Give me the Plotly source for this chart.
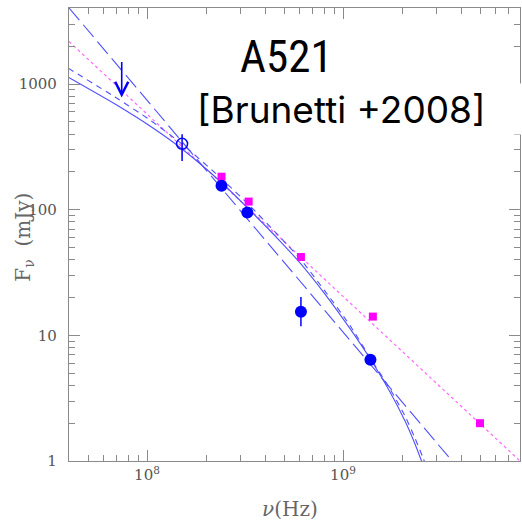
import plotly.graph_objects as go
import math

# ---------------- data ----------------
# detections (blue filled circles)
nu_det = [2.4e8, 3.25e8, 6.1e8, 1.38e9]
F_det = [155, 95, 15.4, 6.4]
F_det_errp = [0, 0, 4.8, 0]
F_det_errm = [0, 0, 3.6, 0]

# 151 MHz point (open circle)
nu_open = [1.51e8]
F_open = [334]
F_open_errp = [65]
F_open_errm = [90]

# companion magenta points
nu_mag = [2.4e8, 3.3e8, 6.1e8, 1.42e9, 5.0e9]
F_mag = [183, 116, 42, 14.1, 2.0]
nu_mag_151 = [1.51e8]
F_mag_151 = [300]
F_mag_151_err = [40]

# 74 MHz upper limit
nu_ul = 7.43e7
F_ul = 1540
F_ul_tip = 780

# model lines
nu_longdash = [4.0e7, 3.6e9]
F_longdash = [4030, 1.0]

nu_dotted = [4.0e7, 8.0e9]
F_dotted = [2180, 1.0]

nu_solid = [3.95e7, 6.87e7, 1.036e8, 1.509e8, 2.413e8, 3.354e8, 4.77e8, 6.11e8,
            8.09e8, 1.086e9, 1.373e9, 1.737e9, 2.072e9, 2.33e9, 2.56e9]
F_solid = [1137, 693, 463, 304, 163, 98.7, 56.3, 36.9,
           21.3, 11.3, 6.54, 3.54, 2.08, 1.366, 0.93]

nu_dash = [3.95e7, 6.87e7, 1.036e8, 1.509e8, 2.413e8, 3.354e8, 4.77e8, 6.11e8,
           8.09e8, 1.086e9, 1.373e9, 1.737e9, 2.072e9, 2.33e9, 2.56e9, 2.715e9]
F_dash = [1340, 788, 517, 333, 175, 107, 60.6, 39.8,
          22.5, 11.97, 6.66, 3.74, 2.28, 1.52, 1.06, 0.83]

x_tickvals = [1e8, 1e9]
x_ticktext = ["10<sup>8</sup>", "10<sup>9</sup>"]
y_tickvals = [1, 10, 100, 1000]
y_ticktext = ["1", "10", "100", "1000"]

title_main = "A521"
title_ref = "[Brunetti +2008]"

# ---------------- figure ----------------
BLUE = "#0000ff"
LBLUE = "#4f4fff"
MAG = "#ff00ff"
AXC = "#8a8a8a"
serif = "DejaVu Serif"

fig = go.Figure()

fig.add_trace(go.Scatter(x=nu_dotted, y=F_dotted, mode="lines",
                         line=dict(color="#ff66ff", width=1.2, dash="dot")))
fig.add_trace(go.Scatter(x=nu_longdash, y=F_longdash, mode="lines",
                         line=dict(color=LBLUE, width=1.1, dash="16px,6px")))
fig.add_trace(go.Scatter(x=nu_dash, y=F_dash, mode="lines", line_shape="spline",
                         line=dict(color=LBLUE, width=1.1, dash="6px,5px", smoothing=0.6)))
fig.add_trace(go.Scatter(x=nu_solid, y=F_solid, mode="lines", line_shape="spline",
                         line=dict(color=LBLUE, width=1.1, smoothing=0.6)))

fig.add_trace(go.Scatter(x=nu_mag_151, y=F_mag_151, mode="markers",
                         marker=dict(size=1, color="#ff88ff"),
                         error_y=dict(type="data", array=F_mag_151_err, color="#ff88ff",
                                      thickness=1, width=0)))
fig.add_trace(go.Scatter(x=nu_mag, y=F_mag, mode="markers",
                         marker=dict(symbol="square", size=8, color=MAG, line=dict(width=0))))
fig.add_trace(go.Scatter(x=nu_open, y=F_open, mode="markers",
                         marker=dict(symbol="circle-open", size=11, color=BLUE,
                                     line=dict(width=1.5, color=BLUE)),
                         error_y=dict(type="data", array=F_open_errp, arrayminus=F_open_errm,
                                      color=BLUE, thickness=1.5, width=0)))
fig.add_trace(go.Scatter(x=nu_det, y=F_det, mode="markers",
                         marker=dict(symbol="circle", size=12, color=BLUE, line=dict(width=0)),
                         error_y=dict(type="data", array=F_det_errp, arrayminus=F_det_errm,
                                      color=BLUE, thickness=1.5, width=0)))

axis_common = dict(
    type="log", showgrid=False, zeroline=False,
    showline=True, linecolor=AXC, linewidth=1.3, mirror="ticks",
    ticks="inside", ticklen=11, tickwidth=1.3, tickcolor=AXC,
    tickfont=dict(family=serif, size=15, color="#555555"),
    minor=dict(ticks="inside", ticklen=6, tickwidth=1.2, tickcolor=AXC, dtick="D1", showgrid=False),
)

fig.update_xaxes(**axis_common, range=[7.602, 9.903],
                 tickvals=x_tickvals, ticktext=x_ticktext)
fig.update_yaxes(**axis_common, range=[0.0, 3.605],
                 tickvals=y_tickvals, ticktext=y_ticktext, ticklabelstandoff=8)

annotations = [
    dict(x=math.log10(nu_ul), y=math.log10(F_ul_tip), ax=math.log10(nu_ul), ay=math.log10(F_ul),
         xref="x", yref="y", axref="x", ayref="y", text="", showarrow=True,
         arrowhead=5, arrowsize=1.6, arrowwidth=1.6, arrowcolor=BLUE),
    dict(x=0.483, y=0.893, xref="paper", yref="paper", text=title_main, showarrow=False,
         xanchor="center", yanchor="middle",
         font=dict(family="Liberation Sans Narrow, Roboto Condensed, Arial Narrow, sans-serif",
                   size=45, color="black")),
    dict(x=0.2816, y=0.776, xref="paper", yref="paper", text=title_ref, showarrow=False,
         xanchor="left", yanchor="middle", align="left", width=330, height=50,
         bgcolor="white", borderpad=0,
         font=dict(family="Inter, Roboto, sans-serif", size=37, color="black")),
    dict(x=0.49, y=-0.105, xref="paper", yref="paper", text="<i>ν</i>(Hz)", showarrow=False,
         xanchor="center", yanchor="middle",
         font=dict(family=serif, size=20, color="#666666")),
    dict(x=-0.1, y=0.495, xref="paper", yref="paper", text="F<sub>ν</sub>  (mJy)", showarrow=False,
         xanchor="center", yanchor="middle", textangle=-90,
         font=dict(family=serif, size=20, color="#666666")),
]

fig.update_layout(
    width=522, height=520,
    margin=dict(l=69, r=2, t=8, b=59, autoexpand=False),
    paper_bgcolor="white", plot_bgcolor="white",
    showlegend=False,
    annotations=annotations,
)

fig.write_html("out.html")
